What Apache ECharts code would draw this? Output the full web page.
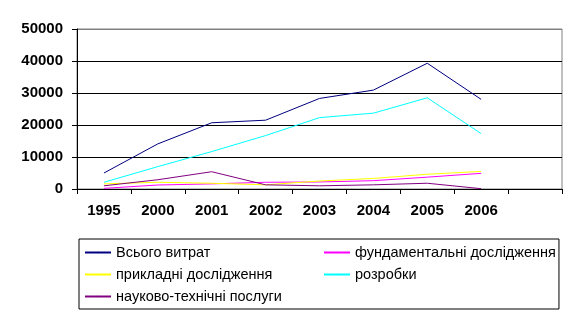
<!DOCTYPE html>
<html>
<head>
<meta charset="utf-8">
<style>
html, body { margin: 0; padding: 0; background: #fff; }
#chart-panel { width: 577px; height: 317px; }
</style>
<script src="https://cdn.jsdelivr.net/npm/echarts@6/dist/echarts.min.js"></script>
</head>
<body>
<div id="chart-panel"></div>
<script type="text/javascript">
// роки (остання категорія порожня, як в оригіналі)
var years = ['1995', '2000', '2001', '2002', '2003', '2004', '2005', '2006', ''];

var vsogo = [5000, 14100, 20700, 21500, 28300, 30900, 39300, 28000];
var fundamentalni = [200, 1250, 1600, 2100, 2200, 2600, 3700, 4900];
var prykladni = [1600, 2100, 1800, 1300, 2500, 3300, 4600, 5500];
var rozrobky = [2100, 7000, 11700, 16700, 22300, 23700, 28500, 17300];
var poslugy = [1000, 2900, 5400, 1300, 1000, 1300, 1800, 100];

var names = ['Всього витрат', 'фундаментальні дослідження', 'прикладні дослідження', 'розробки', 'науково-технічні послуги'];
var colors = ['#000080', '#ff00ff', '#ffff00', '#00ffff', '#800080'];
var values = [vsogo, fundamentalni, prykladni, rozrobky, poslugy];

var font = 'Liberation Sans, Arial, sans-serif';

var series = [];
for (var i = 0; i < names.length; i++) {
    series.push({
        name: names[i],
        type: 'line',
        data: values[i],
        symbol: 'none',
        animation: false,
        lineStyle: { width: 1, color: colors[i] },
        itemStyle: { color: colors[i] }
    });
}

var myChart = echarts.init(document.getElementById('chart-panel'));
var option = {
    backgroundColor: '#fff',
    animation: false,
    grid: {
        left: 77, right: 15, top: 29, bottom: 128,
        show: true, borderColor: '#808080', borderWidth: 1, backgroundColor: '#fff'
    },
    xAxis: {
        type: 'category',
        data: years,
        boundaryGap: true,
        axisLine: { lineStyle: { color: '#000', width: 1 } },
        axisTick: { show: true, length: 5, lineStyle: { color: '#000' } },
        axisLabel: { color: '#000', fontFamily: font, fontSize: 15, fontWeight: 'bold', margin: 14 },
        splitLine: { show: false }
    },
    yAxis: {
        type: 'value',
        min: 0, max: 50000, interval: 10000,
        axisLine: { show: true, lineStyle: { color: '#000', width: 1 } },
        axisTick: { show: true, length: 5, lineStyle: { color: '#000' } },
        axisLabel: {
            color: '#000', fontFamily: font, fontSize: 15, fontWeight: 'bold', margin: 14,
            formatter: function (v) { return String(v); }
        },
        splitLine: { show: true, lineStyle: { color: ['#000', '#000', '#000', '#000', '#000', '#808080'], width: 1 } }
    },
    legend: {
        data: names,
        left: 79, top: 239,
        width: 490,
        orient: 'horizontal',
        itemWidth: 26, itemHeight: 2,
        itemGap: 7,
        padding: [6, 3, 5, 5],
        borderColor: '#000', borderWidth: 1,
        textStyle: { color: '#000', fontFamily: font, fontSize: 14.5, width: 200, lineHeight: 15 }
    },
    series: series
};
myChart.setOption(option);
</script>
</body>
</html>
